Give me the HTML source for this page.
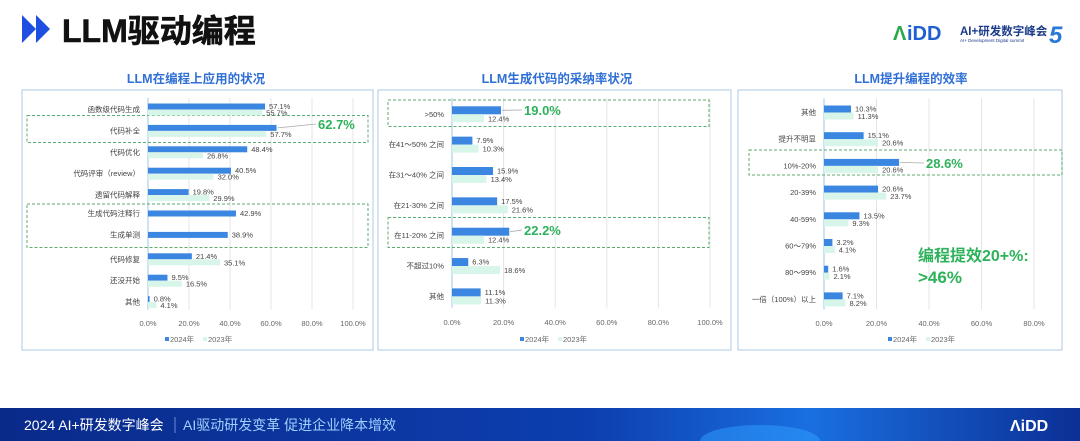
<!DOCTYPE html>
<html><head><meta charset="utf-8">
<style>
body{margin:0;width:1080px;height:441px;overflow:hidden;background:#fff;font-family:"Liberation Sans","Noto Sans CJK SC",sans-serif;}
svg{display:block}
</style></head>
<body>
<svg id="s" width="1080" height="441" viewBox="0 0 1080 441" xmlns="http://www.w3.org/2000/svg">
<defs>
<linearGradient id="fg" x1="0" x2="1" y1="0" y2="0"><stop offset="0" stop-color="#0a2a8a"/><stop offset="0.55" stop-color="#0d3fb0"/><stop offset="0.75" stop-color="#1a6fe0"/><stop offset="1" stop-color="#0b2f95"/></linearGradient>
</defs>
<g>
<polygon points="22,15 36,29 22,43" fill="#1f4fe0"/>
<polygon points="36,15 50,29 36,43" fill="#1f4fe0"/>
<text x="62" y="42" font-size="32" font-weight="bold" fill="#111" stroke="#111" stroke-width="0.6">LLM驱动编程</text>
<g>
<text x="893" y="40" font-size="20" font-weight="bold" fill="#2aa84a">Λ</text>
<text x="907" y="40" font-size="20" font-weight="bold" fill="#1f5fd0">iDD</text>
<text x="960" y="35" font-size="11.5" font-weight="bold" fill="#1a3a8a">AI+研发数字峰会</text>
<text x="960" y="42" font-size="4.5" fill="#1a3a8a">AI+ Development Digital summit</text>
<text x="1049" y="43" font-size="24" font-weight="bold" font-style="italic" fill="#2a78d8">5</text>
</g>
</g>
<g id="charts"></g>
<g>
<rect x="0" y="408" width="1080" height="33" fill="url(#fg)"/>
<ellipse cx="760" cy="441" rx="60" ry="16" fill="#2fa0ff" opacity="0.5"/>
<text x="24" y="430" font-size="14" fill="#fff">2024 AI+研发数字峰会</text>
<line x1="175" y1="417" x2="175" y2="433" stroke="#6a8ad8"/>
<text x="183" y="430" font-size="14" fill="#9fd0ff">AI驱动研发变革  促进企业降本增效</text>
<text x="1010" y="431" font-size="16" font-weight="bold" fill="#fff">ΛiDD</text>
</g>
</svg>
<script>
// Chart 1: LLM在编程上应用的状况
const cats1 = ["函数级代码生成","代码补全","代码优化","代码评审（review）","遗留代码解释","生成代码注释行","生成单测","代码修复","还没开始","其他"];
const v2024_1 = [57.1,62.7,48.4,40.5,19.8,42.9,38.9,21.4,9.5,0.8];
const v2023_1 = [55.7,57.7,26.8,32.0,29.9,null,null,35.1,16.5,4.1];
const ticks1 = ["0.0%","20.0%","40.0%","60.0%","80.0%","100.0%"];
// Chart 2: LLM生成代码的采纳率状况
const cats2 = [">50%","在41～50% 之间","在31～40% 之间","在21-30% 之间","在11-20% 之间","不超过10%","其他"];
const v2024_2 = [19.0,7.9,15.9,17.5,22.2,6.3,11.1];
const v2023_2 = [12.4,10.3,13.4,21.6,12.4,18.6,11.3];
const ticks2 = ["0.0%","20.0%","40.0%","60.0%","80.0%","100.0%"];
// Chart 3: LLM提升编程的效率
const cats3 = ["其他","提升不明显","10%-20%","20-39%","40-59%","60～79%","80～99%","一倍（100%）以上"];
const v2024_3 = [10.3,15.1,28.6,20.6,13.5,3.2,1.6,7.1];
const v2023_3 = [11.3,20.6,20.6,23.7,9.3,4.1,2.1,8.2];
const ticks3 = ["0.0%","20.0%","40.0%","60.0%","80.0%"];

const NS="http://www.w3.org/2000/svg";
const root=document.getElementById('charts');
function mk(tag,attrs,parent,txt){const e=document.createElementNS(NS,tag);for(const k in attrs)e.setAttribute(k,attrs[k]);if(txt!=null)e.textContent=txt;(parent||root).appendChild(e);return e;}

function chart(cfg){
  const g=mk('g',{});
  
  
  const t=mk('text',{x:cfg.tx,y:83,'font-size':12.5,'font-weight':'bold',fill:'#2f6fd6','text-anchor':'middle'},g,cfg.title);
  
  
  const box=mk('rect',{x:cfg.bx,y:90,width:cfg.bw,height:260,fill:'#fff',stroke:'#bcd3ea','stroke-width':1.2},g);
  
  
  const xs=v=>cfg.x0+v*cfg.k;
  const yTop=cfg.rowY0-cfg.rowH*0.4, yBot=cfg.rowY0+cfg.rowH*(cfg.cats.length-1)+cfg.rowH*0.5;
  cfg.ticks.forEach((tl,i)=>{
    const v=i*20;
    const gl=mk('line',{x1:xs(v),x2:xs(v),y1:yTop,y2:yBot,stroke:i==0?'#9ec6ee':'#e4e4e4','stroke-width':1},g);
    
    
    const tt=mk('text',{x:xs(v),y:cfg.tickY,'font-size':7.5,fill:'#666','text-anchor':'middle'},g,tl);
    
    
  });
  (cfg.boxes||[]).forEach(b=>{
    const r=mk('rect',{x:b[0],y:b[1],width:b[2]-b[0],height:b[3]-b[1],fill:'none',stroke:'#5cae6e','stroke-width':1,'stroke-dasharray':'3,2'},g);
    
    
  });
  cfg.cats.forEach((c,i)=>{
    const cy=cfg.rowY0+i*cfg.rowH;
    const a=cfg.s1[i], b=cfg.s2[i];
    const lab=mk('text',{x:cfg.x0-8,y:(b==null?cy:cy+cfg.bh/2)+2.5,'font-size':7.5,fill:'#444','text-anchor':'end'},g,c);
    
    
    const r1=mk('rect',{x:xs(0),y:cy-cfg.bh/2,width:Math.max(1,xs(a)-xs(0)),height:cfg.bh,fill:'#3a86e0'},g);
    
    
    const hl=(cfg.hi||[]).includes(i);
    if(hl){
      mk('line',{x1:xs(a)+1,y1:cy,x2:cfg.hx-2,y2:cfg.hiY?cfg.hiY[i]:cy,stroke:'#aaa','stroke-width':0.8},g);
      const ht=mk('text',{x:cfg.hx,y:(cfg.hiY?cfg.hiY[i]:cy)+5,'font-size':13,'font-weight':'bold',fill:'#2db15a'},g,a.toFixed(1)+'%');
      
      
    } else {
      const vt=mk('text',{x:xs(a)+4,y:cy+2.5,'font-size':7.5,fill:'#444'},g,a.toFixed(1)+'%');
      
      
    }
    if(b!=null){
      const r2=mk('rect',{x:xs(0),y:cy+cfg.bh/2,width:Math.max(1,xs(b)-xs(0)),height:cfg.bh,fill:'#d8f5ea'},g);
      
      
      const vt2=mk('text',{x:xs(b)+4,y:cy+cfg.bh+3,'font-size':7.5,fill:'#444'},g,b.toFixed(1)+'%');
      
      
    }
  });
  const lx=cfg.legX;
  const l1=mk('rect',{x:lx,y:337,width:4,height:4,fill:'#3a86e0'},g);
  
  
  const lt1=mk('text',{x:lx+5,y:342,'font-size':7.5,fill:'#666'},g,'2024年');
  
  
  const l2=mk('rect',{x:lx+38,y:337,width:4,height:4,fill:'#d8f5ea'},g);
  
  
  const lt2=mk('text',{x:lx+43,y:342,'font-size':7.5,fill:'#666'},g,'2023年');
  
  
  return g;
}

chart({name:'chart-usage',title:'LLM在编程上应用的状况',tx:196,bx:22,bw:351,cats:cats1,s1:v2024_1,s2:v2023_1,ticks:ticks1,
  x0:148,k:2.05,rowY0:106.5,rowH:21.4,bh:6,tickY:326,legX:165,
  boxes:[[27,115.5,368,142.5],[27,204,368,247.5]],hi:[1],hx:318,hiY:{1:124}});
chart({name:'chart-adoption',title:'LLM生成代码的采纳率状况',tx:557,bx:378,bw:353,cats:cats2,s1:v2024_2,s2:v2023_2,ticks:ticks2,
  x0:452,k:2.58,rowY0:110.3,rowH:30.35,bh:8,tickY:325,legX:520,
  boxes:[[388,100,709,126.5],[388,217.5,709,247.5]],hi:[0,4],hx:524,hiY:{0:110,4:230}});
chart({name:'chart-efficiency',title:'LLM提升编程的效率',tx:911,bx:738,bw:324,cats:cats3,s1:v2024_3,s2:v2023_3,ticks:ticks3,
  x0:824,k:2.625,rowY0:109,rowH:26.7,bh:7,tickY:326,legX:888,
  boxes:[[749,150,1062,175]],hi:[2],hx:926,hiY:{2:163}});

const n1=mk('text',{x:918,y:261,'font-size':16,'font-weight':'bold',fill:'#2db15a'},null,'编程提效20+%:');


const n2=mk('text',{x:918,y:283,'font-size':17,'font-weight':'bold',fill:'#2db15a'},null,'>46%');


</script>
</body></html>
